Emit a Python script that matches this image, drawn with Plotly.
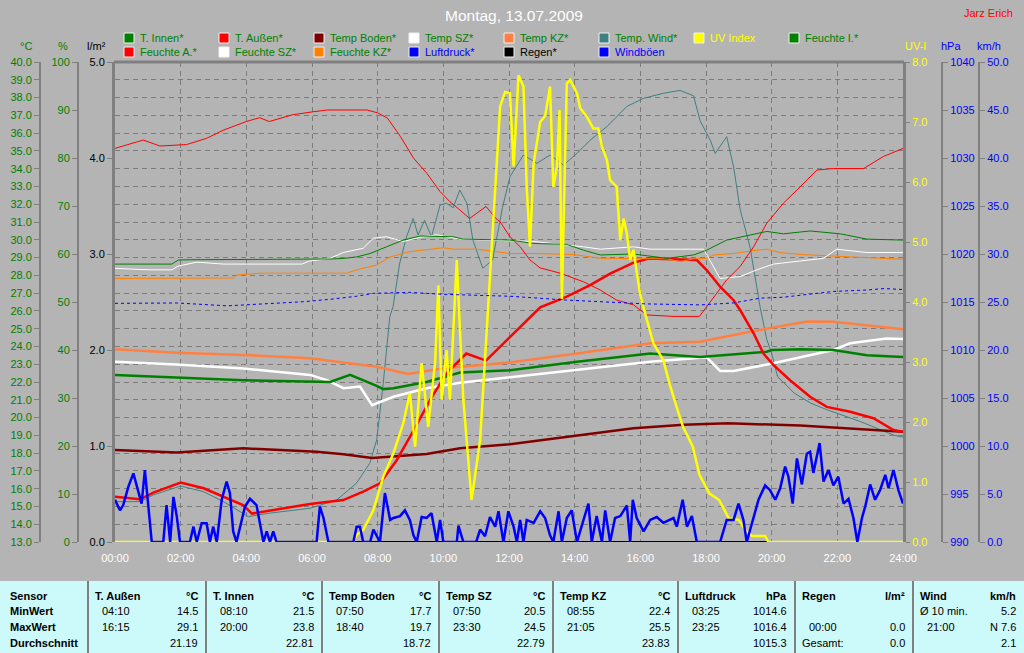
import plotly.graph_objects as go

W, H = 1024, 653

# ---------------- data ----------------
X_TICKS = list(range(0, 25, 2))
X_TICK_TEXT = [f"{h:02d}:00" for h in X_TICKS]

T_INNEN_H = [0, 1.88, 3.91, 6.55, 7.16, 7.97, 8.17, 8.48, 9.49, 10.51, 12.03, 14.07, 16.3, 17.82, 19.85, 20.0, 20.87, 21.88, 22.9, 24]
T_INNEN = [22.4, 22.25, 22.1, 22.0, 22.4, 21.78, 21.6, 21.65, 22.0, 22.53, 22.66, 23.14, 23.6, 23.4, 23.7, 23.8, 23.84, 23.8, 23.5, 23.4]

T_AUSSEN_H = [0, 0.76, 1.17, 2.0, 2.7, 3.3, 3.9, 4.17, 4.9, 5.94, 6.95, 7.56, 8.07, 8.58, 9.1, 9.6, 10.1, 10.7, 11.3, 12.03, 12.95, 13.76, 14.47, 15.08, 15.78, 16.25, 17.72, 18.02, 18.43, 18.84, 19.04, 19.45, 19.75, 20.05, 20.56, 21.17, 21.68, 22.39, 23.1, 23.71, 24]
T_AUSSEN = [15.55, 15.4, 15.78, 16.34, 16.02, 15.55, 15.08, 14.6, 14.84, 15.14, 15.36, 15.83, 16.3, 17.6, 19.3, 21.0, 22.5, 23.6, 23.2, 24.55, 26.2, 26.8, 27.45, 28.1, 28.7, 28.95, 28.86, 28.3, 27.36, 26.6, 26.05, 24.74, 23.6, 22.96, 22.1, 21.17, 20.6, 20.33, 19.96, 19.3, 19.2]

T_BODEN_H = [0, 1.88, 3.91, 6.14, 6.96, 7.83, 9.49, 10.51, 12.03, 14.07, 15.79, 17.31, 18.67, 20.87, 22.39, 24]
T_BODEN = [18.18, 18.03, 18.27, 18.08, 17.93, 17.72, 17.95, 18.27, 18.5, 19.0, 19.4, 19.6, 19.68, 19.55, 19.36, 19.2]

T_SZ_H = [0, 1.88, 3.91, 5.94, 6.45, 6.96, 7.46, 7.83, 8.48, 9.49, 10.51, 12.03, 14.07, 16.3, 18.02, 18.43, 18.84, 20.05, 21.88, 22.39, 23.5, 24]
T_SZ = [23.14, 22.98, 22.76, 22.4, 22.1, 21.65, 21.74, 20.7, 21.17, 21.65, 21.96, 22.27, 22.67, 23.14, 23.39, 22.62, 22.62, 23.05, 23.8, 24.18, 24.45, 24.42]

T_KZ_H = [0, 1.88, 3.91, 5.94, 7.97, 8.92, 10.0, 12.03, 14.07, 16.3, 17.82, 19.34, 20.87, 21.08, 21.88, 24]
T_KZ = [23.84, 23.65, 23.52, 23.33, 22.86, 22.45, 22.77, 23.1, 23.6, 24.18, 24.27, 24.83, 25.33, 25.4, 25.39, 24.96]

T_WIND_H = [0, 0.76, 1.17, 2.0, 2.7, 3.3, 4.06, 4.7, 5.94, 6.75, 7.35, 7.76, 7.97, 8.17, 8.37, 8.47, 8.67, 8.88, 9.08, 9.23, 9.43, 9.64, 9.9, 10.1, 10.3, 10.5, 10.72, 10.9, 11.2, 11.5, 11.8, 12.03, 12.44, 12.85, 13.25, 13.66, 14.07, 14.47, 14.98, 15.59, 16.1, 16.7, 17.21, 17.62, 17.82, 18.13, 18.28, 18.63, 18.84, 19.04, 19.34, 19.65, 19.85, 20.0, 20.18, 20.69, 21.2, 21.7, 22.71, 23.73, 24]
T_WIND = [15.27, 15.27, 15.65, 16.15, 15.83, 15.27, 14.43, 14.62, 14.9, 15.36, 16.3, 17.43, 18.74, 21.93, 25.68, 26.24, 28.68, 30.17, 31.2, 30.27, 31.1, 30.17, 31.96, 32.05, 31.8, 32.8, 32.05, 29.99, 28.4, 28.86, 31.8, 33.55, 34.77, 34.3, 34.77, 34.2, 34.86, 35.6, 36.36, 37.5, 37.96, 38.24, 38.4, 38.1, 36.7, 35.6, 34.86, 35.8, 34.1, 31.7, 29.6, 26.2, 24.4, 23.6, 22.3, 21.37, 20.8, 20.43, 19.77, 19.0, 18.9]

F_INNEN_H = [0, 1.73, 1.93, 2.3, 6.6, 7.0, 7.36, 7.77, 8.27, 8.78, 9.29, 10.0, 10.3, 10.6, 12.03, 12.75, 13.76, 14.27, 14.78, 15.79, 16.81, 17.62, 18.02, 18.63, 19.34, 19.85, 20.36, 21.17, 22.09, 22.9, 24]
F_INNEN = [57.9, 57.9, 58.75, 58.8, 58.96, 59.1, 59.4, 60.1, 61.5, 62.9, 63.75, 63.75, 63.6, 63.1, 62.9, 62.2, 62.0, 60.8, 59.8, 60.0, 59.1, 59.8, 60.8, 62.9, 64.0, 64.7, 64.2, 64.8, 64.2, 63.1, 62.9]

F_AUSSEN_H = [0, 0.86, 1.37, 2.18, 2.79, 3.3, 4.0, 4.4, 4.7, 5.4, 6.0, 6.47, 7.68, 8.0, 8.3, 8.7, 9.1, 9.5, 9.9, 10.2, 10.5, 10.8, 11.3, 11.6, 11.73, 12.03, 12.34, 12.64, 12.95, 13.56, 14.27, 14.78, 15.28, 15.79, 16.2, 17.0, 17.8, 18.02, 18.63, 19.04, 19.45, 19.85, 20.36, 20.87, 21.38, 21.88, 22.8, 23.4, 24]
F_AUSSEN = [82.0, 83.75, 82.5, 82.8, 84.1, 85.8, 87.6, 88.4, 87.6, 89.0, 89.6, 90.0, 90.0, 89.4, 88.3, 84.4, 79.9, 76.8, 73.0, 70.9, 69.2, 67.4, 69.9, 67.4, 66.7, 63.6, 61.5, 58.75, 57.1, 56.0, 54.2, 52.5, 50.4, 49.4, 47.3, 47.0, 47.0, 49.0, 54.6, 57.4, 61.5, 66.4, 70.6, 74.0, 77.5, 77.8, 77.8, 80.3, 82.0]

F_SZ_H = [0, 1.07, 1.73, 1.93, 2.5, 3.3, 5.7, 5.9, 6.55, 6.95, 7.56, 7.87, 8.27, 8.78, 9.29, 9.8, 10.5, 12.03, 12.75, 14.27, 14.78, 15.79, 16.3, 17.93, 18.23, 18.43, 19.04, 19.55, 20.05, 20.87, 21.58, 21.98, 22.9, 24]
F_SZ = [57.0, 56.7, 56.7, 57.5, 58.3, 57.9, 57.9, 58.5, 59.1, 60.3, 61.2, 63.3, 63.6, 62.6, 63.5, 64.0, 63.1, 62.8, 62.6, 61.5, 61.0, 61.5, 61.0, 61.0, 57.4, 54.9, 55.3, 56.7, 57.9, 58.6, 59.1, 61.0, 60.3, 60.3]

F_KZ_H = [0, 3.6, 3.7, 4.42, 7.06, 7.36, 7.97, 8.38, 8.99, 10.0, 10.3, 11.02, 12.03, 12.75, 13.96, 14.78, 16.81, 17.21, 17.62, 18.02, 18.23, 18.84, 19.45, 19.85, 20.26, 20.87, 22.39, 24]
F_KZ = [54.9, 55.0, 55.6, 56.0, 56.0, 56.7, 57.7, 59.4, 60.5, 61.3, 61.0, 61.0, 60.1, 60.1, 59.9, 59.1, 59.0, 58.4, 59.0, 59.1, 59.8, 60.1, 60.7, 61.0, 60.3, 59.9, 59.4, 58.9]

LUFTDRUCK_H = [0, 1.88, 3.42, 3.91, 5.74, 6.55, 7.36, 7.87, 8.99, 10.0, 12.03, 13.76, 16.2, 17.82, 18.84, 19.65, 20.36, 20.87, 21.88, 22.9, 23.42, 24]
LUFTDRUCK = [1014.86, 1014.9, 1014.6, 1014.7, 1015.03, 1015.28, 1015.6, 1015.9, 1016.0, 1015.8, 1015.6, 1015.2, 1014.8, 1014.7, 1014.9, 1015.4, 1015.5, 1015.7, 1016.1, 1016.25, 1016.4, 1016.3]

UV_H = [0, 7.26, 7.36, 7.56, 7.87, 8.17, 8.48, 8.78, 8.98, 9.14, 9.34, 9.54, 9.75, 9.85, 9.95, 10.1, 10.2, 10.41, 10.51, 10.61, 10.86, 11.12, 11.42, 11.62, 11.73, 11.88, 12.03, 12.14, 12.29, 12.44, 12.54, 12.64, 12.75, 12.95, 13.1, 13.25, 13.35, 13.46, 13.54, 13.61, 13.76, 13.86, 14.07, 14.17, 14.37, 14.57, 14.72, 14.83, 14.98, 15.08, 15.28, 15.39, 15.49, 15.59, 15.69, 15.79, 15.99, 16.1, 16.2, 16.4, 16.7, 16.9, 17.1, 17.3, 17.6, 17.8, 18.1, 18.4, 18.7, 19.0, 19.2, 19.4, 19.8, 19.9, 24]
UV = [0, 0, 0.12, 0.2, 0.53, 1.09, 1.48, 1.98, 2.48, 1.59, 2.98, 1.92, 3.0, 4.28, 2.37, 3.2, 2.37, 4.7, 3.48, 2.37, 0.7, 1.7, 4.42, 6.37, 7.26, 7.5, 7.48, 6.26, 7.78, 7.59, 5.92, 4.92, 6.31, 7.0, 7.1, 7.59, 5.92, 6.26, 7.2, 4.05, 7.64, 7.7, 7.48, 7.23, 7.09, 6.89, 6.89, 6.59, 6.37, 6.03, 5.92, 5.03, 5.39, 5.14, 4.7, 4.87, 4.14, 3.9, 3.7, 3.31, 3.03, 2.62, 2.26, 1.92, 1.59, 1.12, 0.81, 0.7, 0.39, 0.37, 0.2, 0.1, 0.1, 0, 0]

REGEN_H = [0, 24]
REGEN = [0.0, 0.0]

WIND_H = [0.0, 0.15, 0.25, 0.41, 0.56, 0.71, 0.81, 0.91, 1.02, 1.12, 1.47, 1.57, 1.68, 1.78, 1.88, 1.98, 2.28, 2.39, 2.49, 2.64, 2.79, 2.89, 2.99, 3.1, 3.25, 3.4, 3.5, 3.6, 3.7, 3.81, 3.96, 4.11, 4.31, 4.52, 4.62, 4.72, 4.82, 4.92, 6.14, 6.24, 6.35, 6.5, 7.26, 7.36, 7.46, 7.56, 7.77, 7.87, 8.07, 8.22, 8.38, 8.48, 8.68, 8.83, 8.98, 9.09, 9.19, 9.34, 9.49, 9.64, 9.8, 9.9, 10.0, 10.41, 10.46, 10.61, 11.0, 11.12, 11.27, 11.42, 11.58, 11.68, 11.83, 11.98, 12.14, 12.24, 12.34, 12.44, 12.54, 12.75, 12.95, 13.1, 13.25, 13.35, 13.51, 13.61, 13.76, 13.91, 14.07, 14.27, 14.42, 14.52, 14.67, 14.83, 14.93, 15.08, 15.23, 15.39, 15.59, 15.69, 15.77, 15.89, 16.1, 16.3, 16.5, 16.7, 16.86, 17.01, 17.11, 17.29, 17.42, 17.57, 17.72, 18.43, 18.63, 18.84, 18.99, 19.14, 19.24, 19.45, 19.6, 19.8, 19.95, 20.11, 20.26, 20.41, 20.51, 20.64, 20.77, 20.92, 21.07, 21.17, 21.27, 21.46, 21.58, 21.73, 21.88, 22.03, 22.19, 22.34, 22.49, 22.61, 22.75, 22.85, 23.0, 23.15, 23.3, 23.46, 23.56, 23.71, 23.86, 24.0]
WIND = [4.4, 3.3, 3.85, 5.8, 7.15, 5.1, 4.0, 7.5, 3.3, 0, 0, 3.85, 0, 4.7, 2.7, 0, 0, 1.6, 0, 1.95, 1.95, 0, 1.6, 0, 4.4, 6.3, 5.1, 1.1, 0, 1.6, 3.7, 4.5, 3.85, 0, 1.1, 0, 1.1, 0, 0, 3.7, 2.5, 0, 0, 1.6, 1.6, 0, 0, 1.3, 0, 5.1, 2.3, 2.5, 2.7, 3.3, 2.3, 0.7, 0, 2.6, 2.5, 3.0, 0, 2.3, 0, 0, 1.7, 0, 0, 1.3, 0.6, 2.6, 1.6, 3.2, 0, 3.2, 1.6, 0, 2.3, 0, 2.3, 2.0, 3.2, 2.5, 0.7, 0, 3.2, 0, 2.5, 3.3, 0, 2.3, 4.0, 0, 2.7, 0, 3.3, 0, 2.5, 2.7, 3.8, 0, 4.4, 2.5, 1.1, 2.3, 2.6, 2.0, 2.3, 2.5, 1.6, 4.4, 1.6, 2.7, 0, 0, 2.3, 2.3, 4.0, 2.3, 0, 2.7, 4.4, 5.9, 5.4, 4.4, 5.6, 7.85, 6.8, 4.0, 8.7, 6.0, 9.2, 9.4, 7.2, 10.3, 6.3, 7.5, 5.9, 6.8, 4.0, 4.5, 2.5, 0, 2.5, 3.7, 6.0, 4.4, 5.4, 7.0, 5.6, 7.5, 5.4, 4.0]

LEGEND_LABELS = ["T. Innen*", "T. Außen*", "Temp Boden*", "Temp SZ*", "Temp KZ*", "Temp. Wind*", "UV Index", "Feuchte I.*",
                 "Feuchte A.*", "Feuchte SZ*", "Feuchte KZ*", "Luftdruck*", "Regen*", "Windböen"]
LEGEND_SWATCH = ["#008000", "#ff0000", "#800000", "#ffffff", "#ff8040", "#408080", "#ffff00", "#008000",
                 "#ff0000", "#ffffff", "#ff8000", "#0000ff", "#000000", "#0000ff"]
LEGEND_TEXT_COLOR = ["#008000"] * 6 + ["#ffff00", "#008000"] + ["#008000"] * 3 + ["#0000ff", "#000000", "#0000ff"]

TABLE_ROW_LABELS = ["Sensor", "MinWert", "MaxWert", "Durchschnitt"]
TABLE_HEADERS = ["T. Außen", "T. Innen", "Temp Boden", "Temp SZ", "Temp KZ", "Luftdruck", "Regen", "Wind"]
TABLE_UNITS = ["°C", "°C", "°C", "°C", "°C", "hPa", "l/m²", "km/h"]
MIN_TIMES = ["04:10", "08:10", "07:50", "07:50", "08:55", "03:25", "", "Ø 10 min."]
MIN_VALS = ["14.5", "21.5", "17.7", "20.5", "22.4", "1014.6", "", "5.2"]
MAX_TIMES = ["16:15", "20:00", "18:40", "23:30", "21:05", "23:25", "00:00", "21:00"]
MAX_VALS = ["29.1", "23.8", "19.7", "24.5", "25.5", "1016.4", "0.0", "N 7.6"]
AVG_TIMES = ["", "", "", "", "", "", "Gesamt:", ""]
AVG_VALS = ["21.19", "22.81", "18.72", "22.79", "23.83", "1015.3", "0.0", "2.1"]

# ---------------- layout helpers (pixels -> paper) ----------------
def px(x):
    return x / W

def py(y):
    return 1 - y / H

FONT = "Liberation Sans, Arial, sans-serif"
BG = "#b4b4b4"
GRID = "#7c7c7c"
AXIS = "#808080"
GREEN = "#008000"
BLUE = "#0000ff"
YELLOW = "#ffff00"

PLOT_L, PLOT_R, PLOT_T, PLOT_B = 115, 903, 62, 542

fig = go.Figure()

def line(xs, ys, color, width, yaxis, dash="solid"):
    fig.add_trace(go.Scatter(x=xs, y=ys, mode="lines", yaxis=yaxis,
                             line=dict(color=color, width=width, dash=dash),
                             hoverinfo="skip", showlegend=False))

# base axis (l/m²)
line(REGEN_H, REGEN, "#000000", 2, "y")
# temperatures (°C)
line(T_WIND_H, T_WIND, "#408080", 1, "y2")
line(T_BODEN_H, T_BODEN, "#800000", 2.5, "y2")
line(T_KZ_H, T_KZ, "#ff8040", 2.5, "y2")
line(T_SZ_H, T_SZ, "#ffffff", 2.5, "y2")
line(T_INNEN_H, T_INNEN, "#008000", 2.5, "y2")
line(T_AUSSEN_H, T_AUSSEN, "#ff0000", 2.5, "y2")
# humidity (%)
line(F_KZ_H, F_KZ, "#ff8000", 1, "y3")
line(F_SZ_H, F_SZ, "#ffffff", 1, "y3")
line(F_INNEN_H, F_INNEN, "#008000", 1, "y3")
line(F_AUSSEN_H, F_AUSSEN, "#ff0000", 1, "y3")
# UV
line(UV_H, UV, "#ffff00", 2.5, "y4")
# pressure
line(LUFTDRUCK_H, LUFTDRUCK, "#0000ff", 1, "y5", dash="3px,3px")
# gusts
line(WIND_H, WIND, "#0000ff", 2.5, "y6")

common = dict(zeroline=False, ticks="outside", ticklen=5, tickcolor=AXIS, tickwidth=1,
              showline=True, linecolor=AXIS, linewidth=2, showgrid=False, automargin=False)

fig.update_layout(
    template="none",
    width=W, height=H, margin=dict(l=0, r=0, t=0, b=0, pad=0, autoexpand=False),
    paper_bgcolor=BG, plot_bgcolor=BG, showlegend=False,
    font=dict(family=FONT, size=11, color="#000000"),
    xaxis=dict(domain=[px(PLOT_L), px(PLOT_R)], range=[0, 24], tickmode="array",
               tickvals=X_TICKS, ticktext=X_TICK_TEXT, tickfont=dict(color="#ffffff", size=11),
               showgrid=True, gridcolor=GRID, griddash="5px,4px", gridwidth=1, automargin=False,
               zeroline=False, showline=False, ticks="", ticklabelstandoff=8, fixedrange=True),
    yaxis=dict(domain=[py(PLOT_B), py(PLOT_T)], range=[0, 5], dtick=1, tickformat=".1f",
               tickfont=dict(color="#000000"), **{**common, "linewidth": 3}),
    yaxis2=dict(overlaying="y", anchor="free", position=px(40), side="left", range=[13, 40],
                dtick=1, tickformat=".1f", tickfont=dict(color=GREEN), **{**common, "showgrid": True},
                gridcolor=GRID, griddash="5px,4px", gridwidth=1),
    yaxis3=dict(overlaying="y", anchor="free", position=px(78), side="left", range=[0, 100],
                dtick=10, tickfont=dict(color=GREEN), **common),
    yaxis4=dict(overlaying="y", anchor="x", side="right", range=[0, 8], dtick=1, tickformat=".1f",
                tickfont=dict(color=YELLOW), **{**common, "linewidth": 3, "ticklen": 4}),
    yaxis5=dict(overlaying="y", anchor="free", position=px(942), side="right", range=[990, 1040],
                dtick=5, tickfont=dict(color=BLUE), **common),
    yaxis6=dict(overlaying="y", anchor="free", position=px(979), side="right", range=[0, 50],
                dtick=5, tickformat=".1f", tickfont=dict(color=BLUE), **common),
)

shapes = []
annotations = []

# top frame line
shapes.append(dict(type="line", xref="paper", yref="paper", x0=px(PLOT_L - 1), x1=px(PLOT_R + 1),
                   y0=py(PLOT_T), y1=py(PLOT_T), line=dict(color=AXIS, width=3)))

def text(x, y, s, color="#000000", size=11, xanchor="left", bold=False, family=FONT):
    annotations.append(dict(x=px(x), y=py(y), xref="paper", yref="paper", text=(f"<b>{s}</b>" if bold else s),
                            showarrow=False, xanchor=xanchor, yanchor="middle",
                            font=dict(color=color, size=size, family=family)))

# title / author
text(514, 15, "Montag, 13.07.2009", "#ffffff", 15.5, "center")
text(1015, 13, "Jarz Erich", "#ff0000", 11, "right")

# axis unit labels
text(26, 46, "°C", GREEN, 11, "center")
text(63, 46, "%", GREEN, 11, "center")
text(96, 46, "l/m²", "#000000", 11, "center")
text(915, 46, "UV-I", YELLOW, 11, "center")
text(951, 46, "hPa", BLUE, 11, "center")
text(989, 46, "km/h", BLUE, 11, "center")

# legend
LEG_X = [124, 219, 314, 409, 504, 599, 694, 789]
for i, lab in enumerate(LEGEND_LABELS):
    row, col = divmod(i, 8)
    yc = 38 if row == 0 else 52
    x0 = LEG_X[col]
    shapes.append(dict(type="rect", xref="paper", yref="paper", x0=px(x0), x1=px(x0 + 10),
                       y0=py(yc + 5), y1=py(yc - 5), fillcolor=LEGEND_SWATCH[i],
                       line=dict(color="#f0f0f0", width=1)))
    text(x0 + 14, yc, lab, LEGEND_TEXT_COLOR[i], 11)

# statistics table
TAB_TOP = 581
shapes.append(dict(type="rect", xref="paper", yref="paper", x0=0, x1=1, y0=0, y1=py(TAB_TOP),
                   fillcolor="#ccfafa", line=dict(width=0), layer="below"))
SEPS = [88, 206, 322, 439, 553, 678, 795, 913]
for s in SEPS:
    shapes.append(dict(type="line", xref="paper", yref="paper", x0=px(s), x1=px(s), y0=0, y1=py(TAB_TOP),
                       line=dict(color="#808080", width=2)))
ROW_Y = [596, 611, 627, 643]
for lab, yy in zip(TABLE_ROW_LABELS, ROW_Y):
    text(8, yy, lab, "#000000", 11, bold=True)
col_edges = SEPS + [1024]
for i in range(8):
    left, right = col_edges[i], col_edges[i + 1]
    text(left + 5, ROW_Y[0], TABLE_HEADERS[i], "#000000", 11, bold=True)
    text(right - 6, ROW_Y[0], TABLE_UNITS[i], "#000000", 11, "right", bold=True)
    tx = left + 5 if i == 7 and MIN_TIMES[i].startswith("Ø") else left + 12
    text(tx, ROW_Y[1], MIN_TIMES[i])
    text(right - 6, ROW_Y[1], MIN_VALS[i], xanchor="right")
    text(left + 12, ROW_Y[2], MAX_TIMES[i])
    text(right - 6, ROW_Y[2], MAX_VALS[i], xanchor="right")
    text(left + 5 if AVG_TIMES[i] else left + 12, ROW_Y[3], AVG_TIMES[i])
    text(right - 6, ROW_Y[3], AVG_VALS[i], xanchor="right")

fig.update_layout(shapes=shapes, annotations=annotations)

fig.write_html("out.html", config={"displayModeBar": False, "staticPlot": True},
               post_script="document.body.style.margin='0';document.body.style.overflow='hidden';")
